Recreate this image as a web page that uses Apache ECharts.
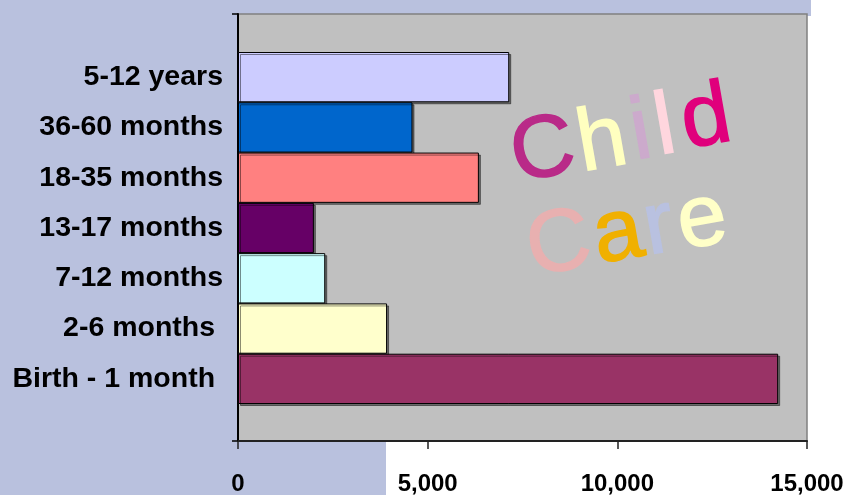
<!DOCTYPE html>
<html>
<head>
<meta charset="utf-8">
<script src="https://cdn.jsdelivr.net/npm/echarts@6/dist/echarts.min.js"></script>
<style>
html, body { margin: 0; padding: 0; background: #fff; }
#main { width: 845px; height: 495px; }
</style>
</head>
<body>
<div id="main"></div>
<script>
// categories top to bottom, as drawn
var categories = ['5-12 years', '36-60 months', '18-35 months', '13-17 months', '7-12 months', '2-6 months ', 'Birth - 1 month '];
var values = [7150, 4600, 6350, 2000, 2300, 3930, 14240];
var barColors = ['#ccccff', '#0066cc', '#ff8080', '#660066', '#ccffff', '#ffffcc', '#993366'];
var xTicks = [0, 5000, 10000, 15000];

var lavender = '#b9c1de';

var dom = document.getElementById('main');
var myChart = echarts.init(dom);

// "Child Care" word art, one letter at a time
var letters = [
    { t: 'C', c: '#b92a88', x: 543, y: 152 },
    { t: 'h', c: '#ffffc0', x: 602, y: 143 },
    { t: 'i', c: '#ccaacc', x: 641, y: 134 },
    { t: 'l', c: '#ffd6de', x: 665, y: 129 },
    { t: 'd', c: '#e0007c', x: 706, y: 120 },
    { t: 'C', c: '#e8b0b0', x: 559, y: 246 },
    { t: 'a', c: '#f0b000', x: 618, y: 235 },
    { t: 'r', c: '#b9c1e0', x: 659, y: 228 },
    { t: 'e', c: '#ffffc8', x: 702, y: 221 }
];

var graphics = [
    { type: 'rect', z: -10, silent: true, shape: { x: 0, y: 0, width: 238, height: 495 }, style: { fill: lavender } },
    { type: 'rect', z: -10, silent: true, shape: { x: 0, y: 0, width: 811, height: 16 }, style: { fill: lavender } },
    { type: 'rect', z: -10, silent: true, shape: { x: 0, y: 441, width: 386, height: 54 }, style: { fill: lavender } }
];
letters.forEach(function (l) {
    graphics.push({
        type: 'text',
        z: 50,
        x: l.x,
        y: l.y,
        rotation: 0.175,
        silent: true,
        style: {
            text: l.t,
            fill: l.c,
            stroke: l.c,
            lineWidth: 1.5,
            font: '88px "Liberation Sans", Arial, sans-serif',
            align: 'center',
            verticalAlign: 'middle'
        }
    });
});

var barData = values.map(function (v, i) {
    return { value: v, itemStyle: { color: barColors[i] } };
});

var option = {
    backgroundColor: '#ffffff',
    animation: false,
    grid: [
        // plot frame
        { left: 238, right: 38, top: 14, bottom: 54, outerBoundsMode: 'none', containLabel: false, show: true, backgroundColor: '#c0c0c0', borderColor: '#808080', borderWidth: 1.5 },
        // bars
        { left: 238, right: 38, top: 52, bottom: 91, outerBoundsMode: 'none', containLabel: false }
    ],
    xAxis: [
        {
            gridIndex: 0,
            type: 'value',
            min: 0,
            max: 15000,
            interval: 5000,
            splitLine: { show: false },
            axisLine: { show: true, lineStyle: { color: '#222', width: 2 } },
            axisTick: { show: true, length: 8, lineStyle: { color: '#222', width: 1.5 } },
            axisLabel: {
                margin: 31,
                color: '#000',
                fontWeight: 'bold',
                fontSize: 24,
                fontFamily: '"Liberation Sans Narrow", "Liberation Sans", Arial, sans-serif',
                formatter: function (v) { return v.toLocaleString('en-US'); }
            }
        },
        { gridIndex: 1, type: 'value', min: 0, max: 15000, show: false }
    ],
    yAxis: [
        {
            gridIndex: 0,
            type: 'value',
            min: 0,
            max: 1,
            interval: 1,
            splitLine: { show: false },
            axisLine: { show: true, lineStyle: { color: '#000', width: 2 } },
            axisTick: { show: true, length: 6, lineStyle: { color: '#000', width: 1.5 } },
            axisLabel: { show: false }
        },
        {
            gridIndex: 1,
            type: 'category',
            inverse: true,
            data: categories,
            axisLine: { show: false },
            axisTick: { show: false },
            axisLabel: {
                margin: 15,
                color: '#000',
                fontWeight: 'bold',
                fontSize: 28.5,
                fontFamily: '"Liberation Sans", Arial, sans-serif'
            }
        }
    ],
    series: [
        {
            type: 'bar',
            xAxisIndex: 1,
            yAxisIndex: 1,
            barWidth: '100%',
            data: barData,
            itemStyle: {
                borderColor: '#000',
                borderWidth: 1,
                shadowColor: 'rgba(0,0,0,0.45)',
                shadowOffsetX: 2,
                shadowOffsetY: 2,
                shadowBlur: 0
            }
        }
    ],
    graphic: graphics
};

if (option && typeof option === "object") {
    myChart.setOption(option, true);
}
</script>
</body>
</html>
